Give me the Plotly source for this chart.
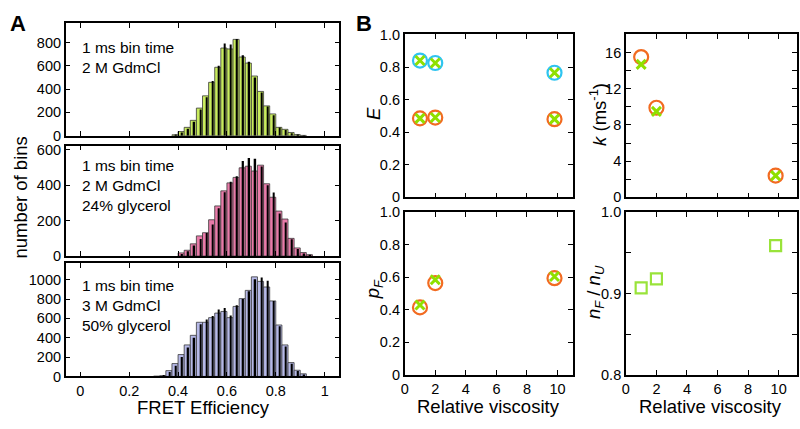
import plotly.graph_objects as go

# ---- Panel A: FRET efficiency histograms (bin width 0.025) ----
green_e = [0.3875, 0.4125, 0.4375, 0.4625, 0.4875, 0.5125, 0.5375, 0.5625, 0.5875, 0.6125, 0.6375,
           0.6625, 0.6875, 0.7125, 0.7375, 0.7625, 0.7875, 0.8125, 0.8375, 0.8625, 0.8875, 0.9125]
green_counts = [8, 36, 72, 132, 237, 342, 458, 587, 752, 744, 826,
                675, 623, 512, 380, 256, 187, 72, 55, 28, 10, 3]
green_sim = [5, 28, 60, 120, 225, 330, 470, 600, 790, 783, 830,
             690, 635, 500, 370, 250, 175, 70, 50, 22, 8, 3]

pink_e = [0.4125, 0.4375, 0.4625, 0.4875, 0.5125, 0.5375, 0.5625, 0.5875, 0.6125, 0.6375, 0.6625,
          0.6875, 0.7125, 0.7375, 0.7625, 0.7875, 0.8125, 0.8375, 0.8625, 0.8875, 0.9125, 0.9375]
pink_counts = [18, 33, 69, 114, 132, 205, 283, 368, 413, 444, 498,
               507, 480, 513, 408, 332, 254, 209, 100, 46, 20, 8]
pink_sim = [12, 28, 60, 96, 130, 178, 270, 360, 420, 450, 536,
            553, 549, 505, 400, 359, 240, 190, 95, 40, 15, 5]

blue_e = [0.3125, 0.3375, 0.3625, 0.3875, 0.4125, 0.4375, 0.4625, 0.4875, 0.5125, 0.5375, 0.5625,
          0.5875, 0.6125, 0.6375, 0.6625, 0.6875, 0.7125, 0.7375, 0.7625, 0.7875, 0.8125,
          0.8375, 0.8625, 0.8875, 0.9125]
blue_counts = [3, 8, 60, 133, 226, 326, 425, 560, 560, 608, 655,
               672, 608, 724, 805, 890, 1030, 983, 925, 781, 532,
               326, 143, 64, 27]
blue_sim = [2, 5, 45, 110, 200, 300, 400, 540, 590, 624, 691,
            707, 631, 735, 800, 880, 1006, 1023, 990, 781, 520,
            310, 130, 55, 20]

hist_labels = ["1 ms bin time<br>2 M GdmCl",
               "1 ms bin time<br>2 M GdmCl<br>24% glycerol",
               "1 ms bin time<br>3 M GdmCl<br>50% glycerol"]

# ---- Panel B: parameters vs relative viscosity ----
viscosity = [1, 2, 9.8]
E_high_fit = [0.84, 0.825, 0.765]
E_high_x = [0.84, 0.825, 0.765]
E_low_fit = [0.485, 0.49, 0.48]
E_low_x = [0.485, 0.49, 0.48]
k_fit = [15.5, 9.9, 2.4]
k_x = [14.7, 9.5, 2.4]
pF_fit = [0.415, 0.565, 0.595]
pF_x = [0.43, 0.585, 0.605]
nF_nU = [0.907, 0.918, 0.959]

FONT = "Liberation Sans, Arial, sans-serif"
W, H = 800, 429
CYAN, ORANGE, LIME = "#2ec4f0", "#f26b21", "#8fe000"


def px_x(v):
    return v / W


def px_y(v):
    return 1 - v / H


def axis(domain, **kw):
    d = dict(domain=domain, showline=True, linecolor="black", linewidth=1.5,
             mirror="ticks", ticks="inside", ticklen=5, tickwidth=1.2, tickcolor="black",
             tickfont=dict(size=14.5, color="black", family=FONT),
             showgrid=False, zeroline=False)
    d.update(kw)
    return d


fig = go.Figure()

hist_sets = [(green_e, green_counts, green_sim, "#c9ec5e"),
             (pink_e, pink_counts, pink_sim, "#e97ba9"),
             (blue_e, blue_counts, blue_sim, "#b6b9e8")]
for i, (e, c, s, col) in enumerate(hist_sets):
    xa = "x" if i == 0 else f"x{i + 1}"
    ya = "y" if i == 0 else f"y{i + 1}"
    fig.add_trace(go.Bar(x=e, y=c, width=0.025, offset=-0.0125, xaxis=xa, yaxis=ya,
                         marker=dict(color=col, line=dict(color="#3a3a3a", width=0.8)),
                         showlegend=False))
    fig.add_trace(go.Bar(x=e, y=s, width=0.006, offset=0.001, xaxis=xa, yaxis=ya,
                         marker=dict(color="black", line=dict(width=0)),
                         showlegend=False))

circ = dict(symbol="circle-open", size=14, line=dict(width=2.2))
cross = dict(symbol="x-thin-open", size=9, color=LIME, line=dict(width=3, color=LIME))

fig.add_trace(go.Scatter(x=viscosity, y=E_high_fit, mode="markers", xaxis="x4", yaxis="y4",
                         marker=dict(color=CYAN, **circ), showlegend=False))
fig.add_trace(go.Scatter(x=viscosity, y=E_low_fit, mode="markers", xaxis="x4", yaxis="y4",
                         marker=dict(color=ORANGE, **circ), showlegend=False))
fig.add_trace(go.Scatter(x=viscosity, y=E_high_x, mode="markers", xaxis="x4", yaxis="y4",
                         marker=cross, showlegend=False))
fig.add_trace(go.Scatter(x=viscosity, y=E_low_x, mode="markers", xaxis="x4", yaxis="y4",
                         marker=cross, showlegend=False))

fig.add_trace(go.Scatter(x=viscosity, y=k_fit, mode="markers", xaxis="x5", yaxis="y5",
                         marker=dict(color=ORANGE, **circ), showlegend=False))
fig.add_trace(go.Scatter(x=viscosity, y=k_x, mode="markers", xaxis="x5", yaxis="y5",
                         marker=cross, showlegend=False))

fig.add_trace(go.Scatter(x=viscosity, y=pF_fit, mode="markers", xaxis="x6", yaxis="y6",
                         marker=dict(color=ORANGE, **circ), showlegend=False))
fig.add_trace(go.Scatter(x=viscosity, y=pF_x, mode="markers", xaxis="x6", yaxis="y6",
                         marker=cross, showlegend=False))

fig.add_trace(go.Scatter(x=viscosity, y=nF_nU, mode="markers", xaxis="x7", yaxis="y7",
                         marker=dict(symbol="square-open", size=11, color="#99e33a",
                                     line=dict(width=2.2, color="#99e33a")),
                         showlegend=False))

# domains (pixel positions converted to paper)
ax_a = [px_x(62), px_x(337)]
rows_a = [[px_y(132.7), px_y(16)], [px_y(257.7), px_y(143)], [px_y(382.7), px_y(265)]]
ax_bl = [px_x(402.7), px_x(571.7)]
ax_br = [px_x(625), px_x(797)]
row_bt = [px_y(196.7), px_y(27.5)]
row_bb = [px_y(381), px_y(212.3)]

e_ticks = [0, 0.2, 0.4, 0.6, 0.8, 1]
e_text = ["0", "0.2", "0.4", "0.6", "0.8", "1"]
visc_ticks = [0, 2, 4, 6, 8, 10]
frac_ticks = [0, 0.2, 0.4, 0.6, 0.8, 1.0]
frac_text = ["0", "0.2", "0.4", "0.6", "0.8", "1.0"]

layout = dict(
    width=W, height=H, margin=dict(l=0, r=0, t=0, b=0),
    paper_bgcolor="white", plot_bgcolor="white", barmode="overlay",
    font=dict(family=FONT, color="black"),
    xaxis=axis(ax_a, anchor="y", range=[-0.06, 1.06], tickvals=e_ticks, showticklabels=False),
    yaxis=axis(rows_a[0], anchor="x", range=[0, 963], tickvals=[0, 200, 400, 600, 800]),
    xaxis2=axis(ax_a, anchor="y2", range=[-0.06, 1.06], tickvals=e_ticks, showticklabels=False),
    yaxis2=axis(rows_a[1], anchor="x2", range=[0, 623], tickvals=[0, 200, 400, 600]),
    xaxis3=axis(ax_a, anchor="y3", range=[-0.06, 1.06], tickvals=e_ticks, ticktext=e_text),
    yaxis3=axis(rows_a[2], anchor="x3", range=[0, 1172], tickvals=[0, 200, 400, 600, 800, 1000]),
    xaxis4=axis(ax_bl, anchor="y4", range=[0, 11], tickvals=visc_ticks, showticklabels=False),
    yaxis4=axis(row_bt, anchor="x4", range=[0, 1], tickvals=frac_ticks, ticktext=frac_text),
    xaxis5=axis(ax_br, anchor="y5", range=[0, 11.2], tickvals=visc_ticks, showticklabels=False),
    yaxis5=axis(row_bt, anchor="x5", range=[0, 18], tickvals=[0, 4, 8, 12, 16],
                minor=dict(tickvals=[2, 6, 10, 14], ticks="inside", ticklen=5, tickcolor="black")),
    xaxis6=axis(ax_bl, anchor="y6", range=[0, 11], tickvals=visc_ticks),
    yaxis6=axis(row_bb, anchor="x6", range=[0, 1], tickvals=frac_ticks, ticktext=frac_text),
    xaxis7=axis(ax_br, anchor="y7", range=[0, 11.2], tickvals=visc_ticks),
    yaxis7=axis(row_bb, anchor="x7", range=[0.8, 1.0], tickvals=[0.8, 0.9, 1.0],
                ticktext=["0.8", "0.9", "1.0"],
                minor=dict(tickvals=[0.85, 0.95], ticks="inside", ticklen=5, tickcolor="black")),
)
fig.update_layout(**layout)


def note(text, x, y, size=18.5, angle=0, xanchor="center", yanchor="middle", align="center"):
    fig.add_annotation(text=text, x=px_x(x), y=px_y(y), xref="paper", yref="paper",
                       showarrow=False, textangle=angle, xanchor=xanchor, yanchor=yanchor,
                       align=align, font=dict(size=size, family=FONT, color="black"))


# panel letters
note("<b>A</b>", 14, 16, size=22)
note("<b>B</b>", 362, 16, size=22)

# histogram condition labels
for text, top in zip(hist_labels, [30, 153, 277]):
    note(text, 76, top, size=15.5, xanchor="left", yanchor="top", align="left")

# axis titles
note("number of bins", 17, 197, angle=-90)
note("FRET Efficiency", 200, 415)
note("<i>E</i>", 372, 110, angle=-90)
note("<i>k</i> (ms<sup>-1</sup>)", 597, 111, angle=-90)
note("<i>p</i><sub><i>F</i></sub>", 372, 292, angle=-90)
note("<i>n</i><sub><i>F</i></sub> / <i>n</i><sub><i>U</i></sub>", 594, 295, angle=-90)
note("Relative viscosity", 487, 414)
note("Relative viscosity", 710, 414)

# the page body has a default margin; drop it so pixel positions line up
fig.write_html("out.html", config={"displayModeBar": False},
               post_script="document.body.style.margin='0';")
